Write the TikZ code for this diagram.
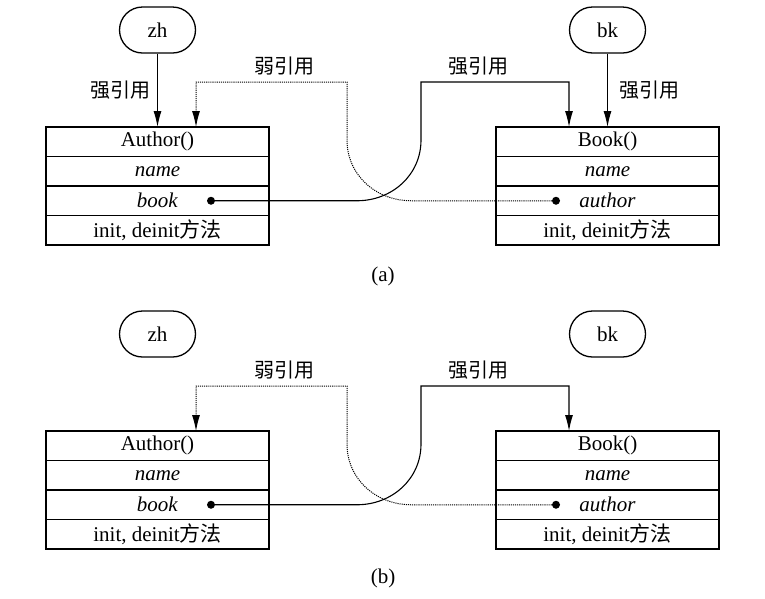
\documentclass[tikz,border=0pt]{standalone}
\usepackage{fontspec}
\setmainfont{Liberation Serif}
\newfontfamily\cjk{Noto Sans CJK SC}
\usetikzlibrary{arrows.meta,positioning}

\begin{document}
\begin{tikzpicture}[
    x=1pt,y=-1pt,
    font=\fontsize{21}{25}\selectfont,
    node distance=0pt,
    var/.style={draw,line width=1.3pt,rounded corners=23pt,minimum width=76pt,
      minimum height=46pt,inner sep=0pt},
    row/.style={draw,line width=1.4pt,minimum width=223pt,minimum height=29.5pt,
      inner sep=0pt,outer sep=0pt},
    ref/.style={circle,fill,inner sep=0pt,minimum size=8pt},
    tag/.style={font=\cjk\fontsize{20}{24}\selectfont},
    strong/.style={-{Latex[length=16pt,width=8pt]},line width=1.1pt},
    weak/.style={strong,densely dotted,line width=1pt}
  ]
    \useasboundingbox (0,0) rectangle (765,598);
    % (a)
    \node[var] (zh) at (157.5,30) {zh};
    \node[var] (bk) at (607.5,30) {bk};
    \node[row] (author) at (157.5,141.75) {Author()};
    \node[row,below=of author] (aname) {\textit{name}};
    \node[row,below=of aname] (abook) {\textit{book}};
    \node[row,below=of abook] (ainit) {init, deinit{\cjk 方法}};
    \node[row] (book) at (607.5,141.75) {Book()};
    \node[row,below=of book] (bname) {\textit{name}};
    \node[row,below=of bname] (bauthor) {\textit{author}};
    \node[row,below=of bauthor] (binit) {init, deinit{\cjk 方法}};
    \node[ref] (adot) at (211,200.75) {};
    \node[ref] (bdot) at (556,200.75) {};
    \draw[strong] (zh) -- node[tag,left=3pt] {强引用} (author);
    \draw[strong] (bk) -- node[tag,right=8pt] {强引用} (book);
    \draw[strong] (adot) -- (357,200.75) .. controls (392,200.75) and (421,175) .. (421,140)
      -- (421,82) -- (569,82) -- ([xshift=-38.5pt]book.north);
    \draw[weak] (bdot) -- (411,200.75) .. controls (376,200.75) and (347,175) .. (347,140)
      -- (347,82) -- (196,82) -- ([xshift=38.5pt]author.north);
    \node[tag] (weaktag) at (284,66) {弱引用};
    \node[tag] (strongtag) at (478,66) {强引用};
    \node (capa) at (383,276) {(a)};
    % (b)
    \begin{scope}[yshift=-304pt]
      \node[var] (zh2) at (157.5,30) {zh};
      \node[var] (bk2) at (607.5,30) {bk};
      \node[row] (author2) at (157.5,141.75) {Author()};
      \node[row,below=of author2] (aname2) {\textit{name}};
      \node[row,below=of aname2] (abook2) {\textit{book}};
      \node[row,below=of abook2] (ainit2) {init, deinit{\cjk 方法}};
      \node[row] (book2) at (607.5,141.75) {Book()};
      \node[row,below=of book2] (bname2) {\textit{name}};
      \node[row,below=of bname2] (bauthor2) {\textit{author}};
      \node[row,below=of bauthor2] (binit2) {init, deinit{\cjk 方法}};
      \node[ref] (adot2) at (211,200.75) {};
      \node[ref] (bdot2) at (556,200.75) {};
      \draw[strong] (adot2) -- (357,200.75) .. controls (392,200.75) and (421,175) .. (421,140)
        -- (421,82) -- (569,82) -- ([xshift=-38.5pt]book2.north);
      \draw[weak] (bdot2) -- (411,200.75) .. controls (376,200.75) and (347,175) .. (347,140)
        -- (347,82) -- (196,82) -- ([xshift=38.5pt]author2.north);
      \node[tag] (weaktag2) at (284,66) {弱引用};
      \node[tag] (strongtag2) at (478,66) {强引用};
      \node (capb) at (383,274) {(b)};
    \end{scope}
\end{tikzpicture}
\end{document}
